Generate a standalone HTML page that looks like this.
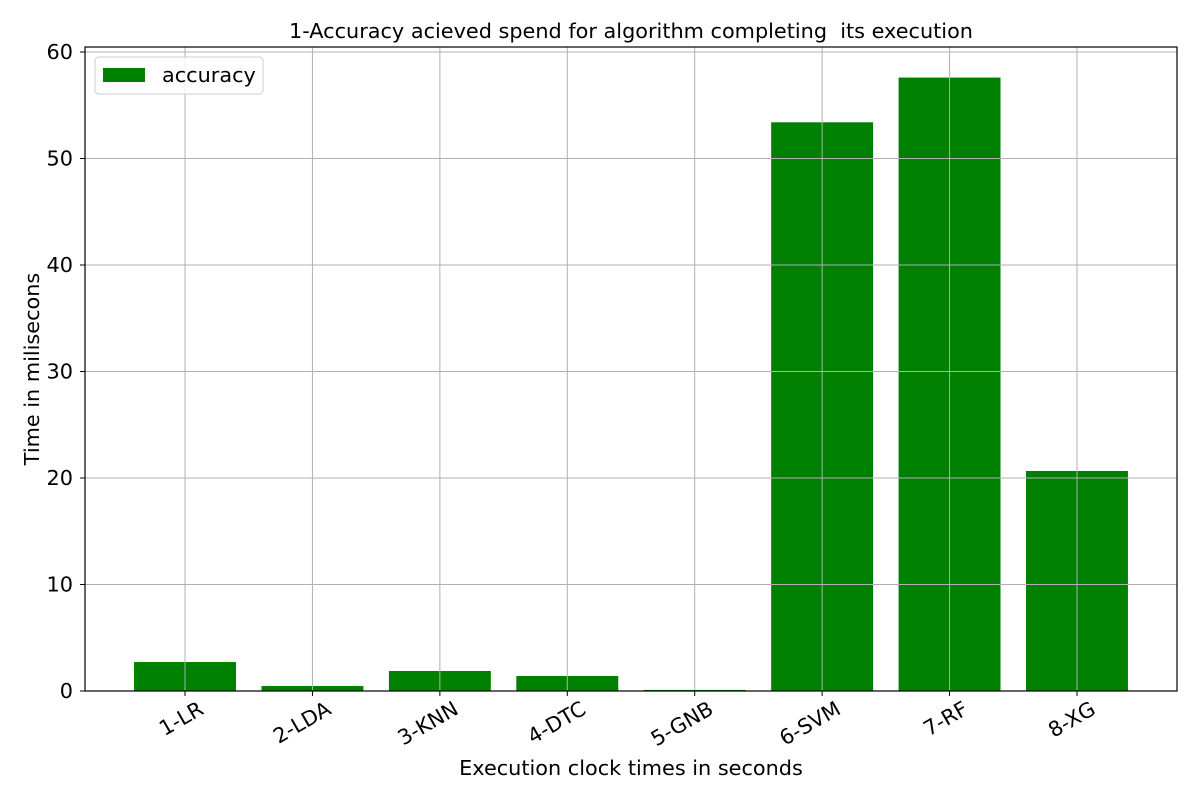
<!DOCTYPE html>
<html><head><meta charset="utf-8">
<style>
html,body{margin:0;padding:0;background:#fff;}
svg{display:block;font-family:"DejaVu Sans","Liberation Sans",sans-serif;}
</style></head>
<body>
<svg id="chart" width="1200" height="800" viewBox="0 0 1200 800">
<text x="631" y="38" text-anchor="middle" font-size="20.8" fill="#000" style="white-space:pre" xml:space="preserve">1-Accuracy acieved spend for algorithm completing  its execution</text>
<g id="grid"></g>
<g id="bars"></g>
<g id="ticks"></g>
<rect x="85" y="47" width="1092" height="644" fill="none" stroke="#000" stroke-width="1.2"/>
<text x="631" y="775" text-anchor="middle" font-size="20.8">Execution clock times in seconds</text>
<text transform="translate(39,369) rotate(-90)" text-anchor="middle" font-size="20.8">Time in milisecons</text>
<g>
<rect x="95" y="57" width="168" height="37" rx="4" fill="#fff" fill-opacity="0.8" stroke="#ccc"/>
<rect x="103" y="68" width="42" height="14" fill="#008000"/>
<text x="162" y="82" font-size="20.8">accuracy</text>
</g>
</svg>
<script>
const categories = ["1-LR","2-LDA","3-KNN","4-DTC","5-GNB","6-SVM","7-RF","8-XG"];
const values = [2.72,0.47,1.88,1.41,0.1,53.4,57.6,20.66];
const yTicks = [0,10,20,30,40,50,60];

const ns="http://www.w3.org/2000/svg";
const L=85,R=1177,T=47,B=691;
const xmin=-0.785,xmax=7.785,ymin=0,ymax=60.47;
const xs=v=>L+(v-xmin)/(xmax-xmin)*(R-L);
const ys=v=>B-(v-ymin)/(ymax-ymin)*(B-T);
function mk(tag,attrs,parent){const e=document.createElementNS(ns,tag);for(const k in attrs)e.setAttribute(k,attrs[k]);parent.appendChild(e);return e;}
const grid=document.getElementById('grid'),bars=document.getElementById('bars'),ticks=document.getElementById('ticks');
yTicks.forEach(t=>{
  const y=ys(t);
  const g=mk('line',{x1:L,x2:R,y1:y,y2:y,stroke:'#b0b0b0','stroke-width':1},grid);
  
  
  const tk=mk('line',{x1:L-5,x2:L,y1:y,y2:y,stroke:'#000','stroke-width':1},ticks);
  
  
  const tx=mk('text',{x:L-12,y:y+7,'text-anchor':'end','font-size':20.8},ticks);
  tx.textContent=t;
  
  
});
categories.forEach((c,i)=>{
  const x=xs(i);
  const g=mk('line',{x1:x,x2:x,y1:T,y2:B,stroke:'#b0b0b0','stroke-width':1},grid);
  
  
  const w=xs(0.4)-xs(-0.4);
  const b=mk('rect',{x:x-w/2,y:ys(values[i]),width:w,height:ys(0)-ys(values[i]),fill:'#008000'},bars);
  
  
  const tk=mk('line',{x1:x,x2:x,y1:B,y2:B+5,stroke:'#000','stroke-width':1},ticks);
  
  
  const tx=mk('text',{x:0,y:0,'text-anchor':'end','font-size':20.8,transform:`translate(${x+20},${B+22}) rotate(-30)`},ticks);
  tx.textContent=c;
  
  
});
bars.parentNode.insertBefore(bars,grid);
</script>
</body></html>
